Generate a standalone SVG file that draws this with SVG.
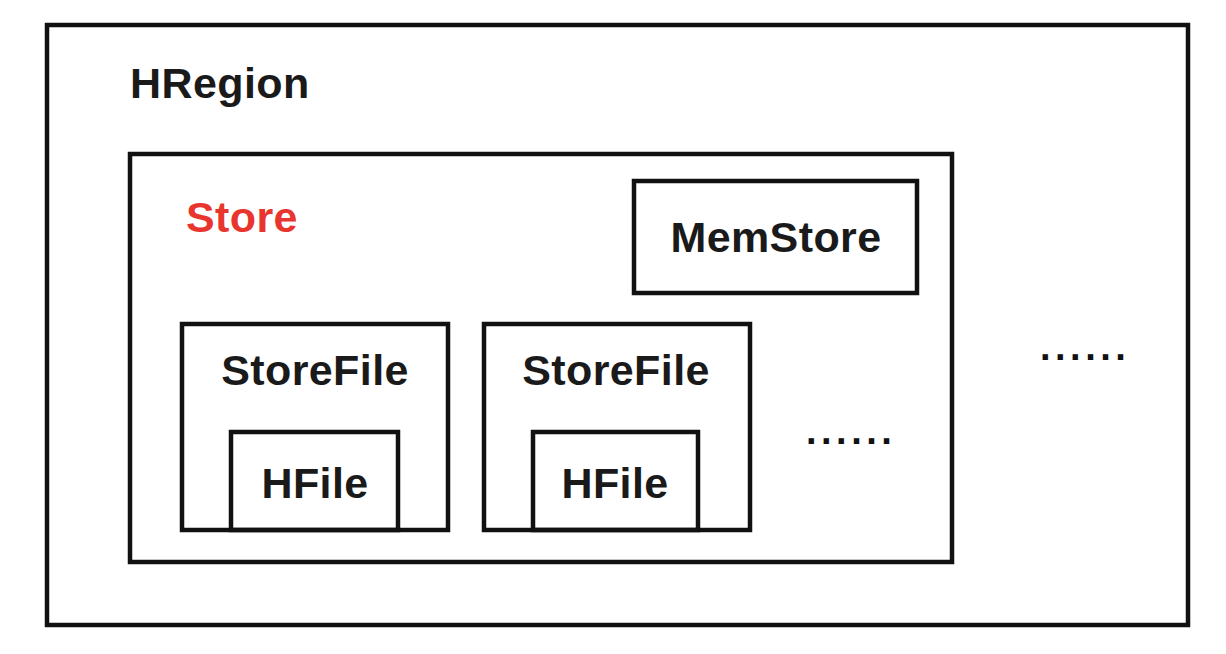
<svg xmlns="http://www.w3.org/2000/svg" width="1226" height="654" viewBox="0 0 1226 654">
<style>
.box{fill:none;stroke:#111;stroke-width:4.5}
.t{font-family:"Liberation Sans",Arial,sans-serif;font-weight:bold;font-size:43px;letter-spacing:0.4px;fill:#1a1a1a}
.c{text-anchor:middle}
.red{fill:#e8352e}
.dots{font-family:"Liberation Sans",Arial,sans-serif;font-weight:bold;font-size:38px;fill:#111;letter-spacing:4.5px}
</style>
<rect width="1226" height="654" fill="#fff"/>
<g id="hregion">
<rect class="box" x="47" y="25" width="1141" height="600"/>
<text class="t" x="130" y="98">HRegion</text>
<text class="dots" x="1040" y="360">......</text>
</g>
<g id="store">
<rect class="box" x="130" y="154" width="822" height="408"/>
<text class="t red" x="186" y="232">Store</text>
<text class="dots" x="806" y="444">......</text>
</g>
<g id="memstore">
<rect class="box" x="634" y="181" width="283" height="112"/>
<text class="t c" x="776" y="252">MemStore</text>
</g>
<g id="storefile1">
<rect class="box" x="182" y="324" width="266" height="206"/>
<text class="t c" x="315" y="385">StoreFile</text>
</g>
<g id="hfile1">
<rect class="box" x="231" y="432" width="167" height="98"/>
<text class="t c" x="315" y="498">HFile</text>
</g>
<g id="storefile2">
<rect class="box" x="484" y="324" width="266" height="206"/>
<text class="t c" x="616" y="385">StoreFile</text>
</g>
<g id="hfile2">
<rect class="box" x="533" y="432" width="165" height="98"/>
<text class="t c" x="615" y="498">HFile</text>
</g>
<g id="connectors"></g>
</svg>
